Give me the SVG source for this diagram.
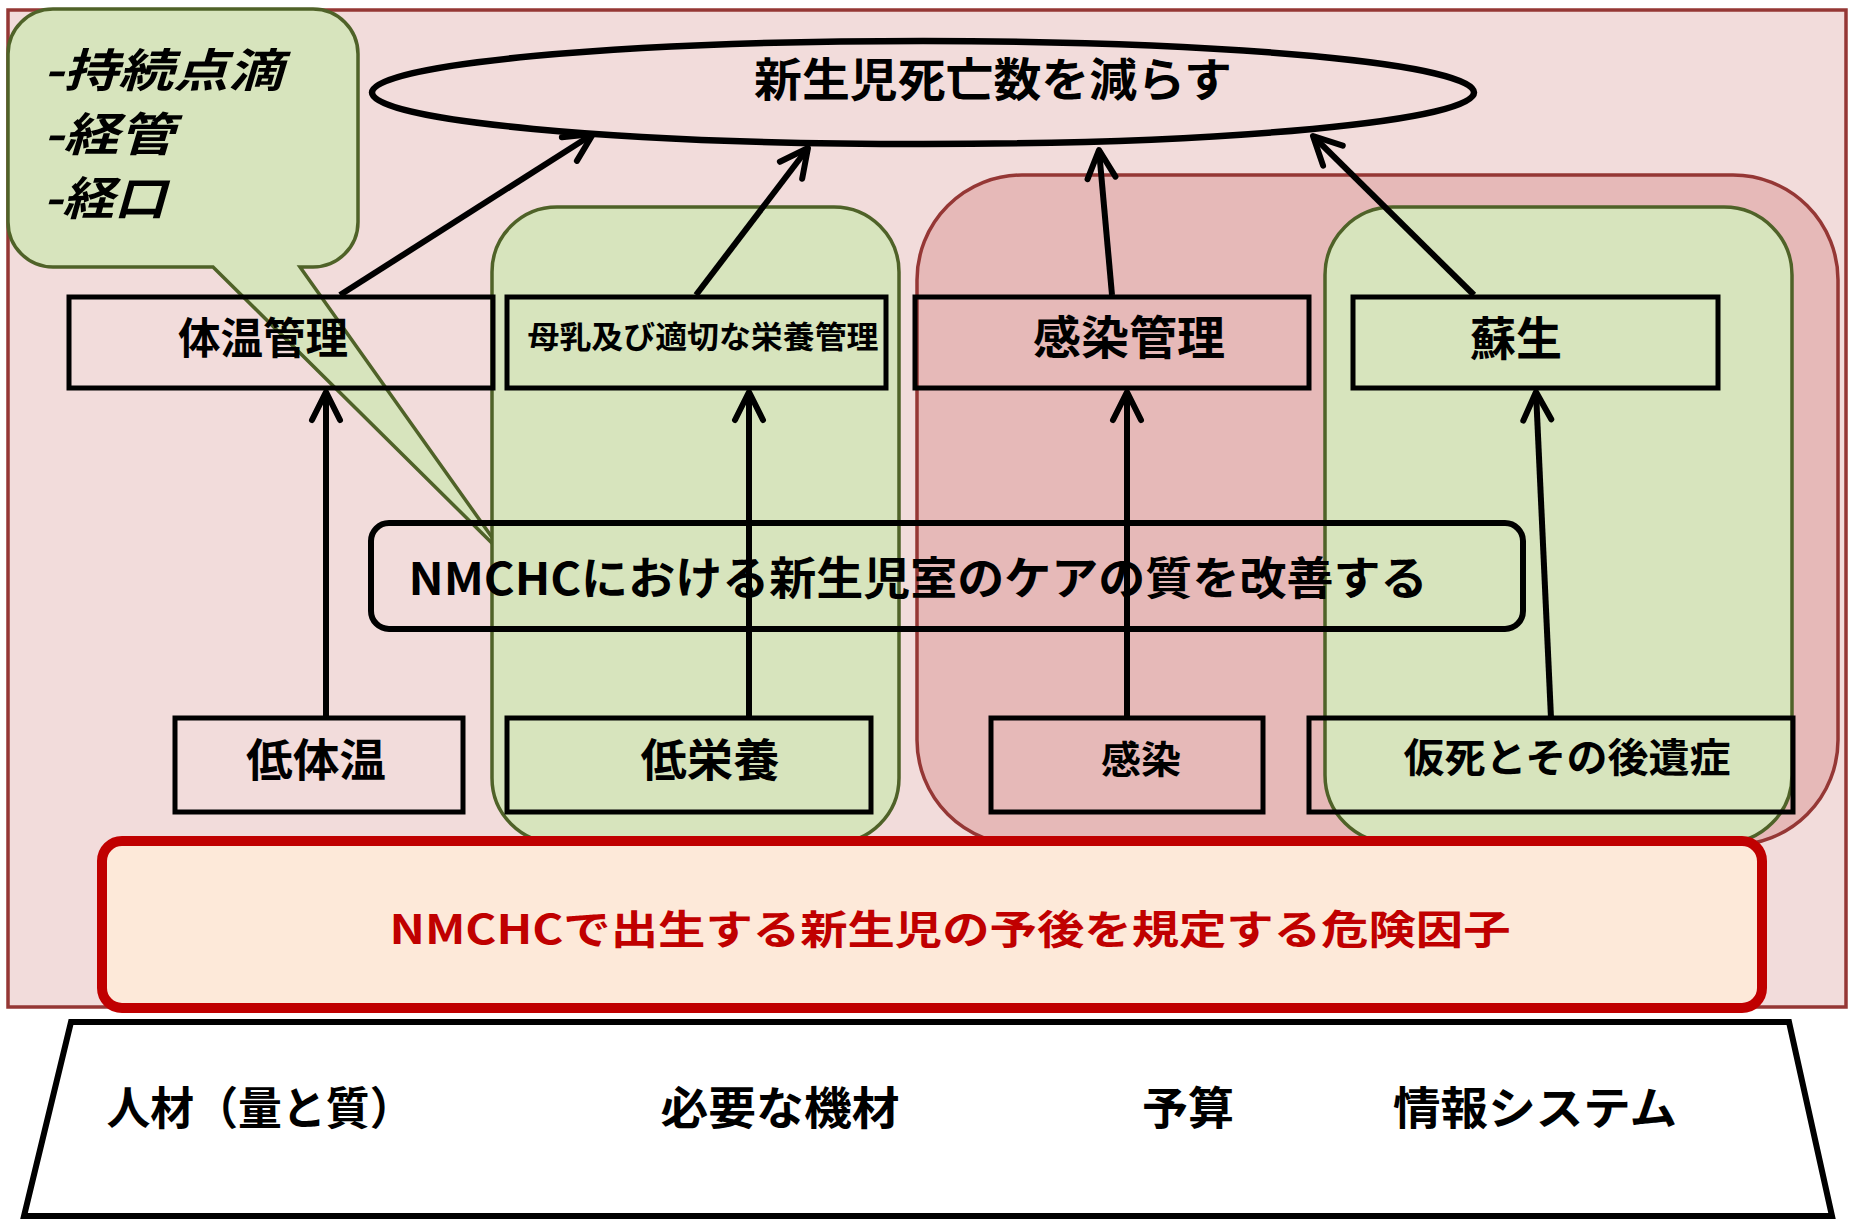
<svg xmlns="http://www.w3.org/2000/svg" width="1851" height="1221" viewBox="0 0 1851 1221">
<style>
text{font-family:"Noto Sans CJK JP","Noto Sans",sans-serif;font-weight:bold;fill:#000;text-anchor:middle}
.box{fill:none;stroke:#000;stroke-width:5}
.green{fill:#d7e4bd;stroke:#4f6228;stroke-width:3.5}
.redcol{fill:#e6b9b8;stroke:#953735;stroke-width:3.5}
.conn{stroke:#000;stroke-width:6;fill:none;marker-end:url(#arr)}
.call{font-size:46px;font-style:italic;text-anchor:start}
</style>
<defs>
<marker id="arr" markerUnits="userSpaceOnUse" markerWidth="44" markerHeight="44" viewBox="0 0 44 44" refX="38" refY="22" orient="auto">
<path d="M10,8 L38,22 L10,36" fill="none" stroke="#000" stroke-width="6" stroke-linecap="round" stroke-linejoin="round"/>
</marker>
</defs>
<rect id="background" x="8" y="10" width="1838" height="997" fill="#f2dcdb" stroke="#953735" stroke-width="3.5"/>
<g id="infection-group"><rect class="redcol" x="917" y="175" width="921" height="670" rx="105"/></g>
<g id="callout">
<path d="M53,9 H313 A45,45 0 0 1 358,54 V222 A45,45 0 0 1 313,267 H300 L506,557 L213,267 H53 A45,45 0 0 1 8,222 V54 A45,45 0 0 1 53,9 Z" fill="#d7e4bd" stroke="#4f6228" stroke-width="3.5"/>
<text class="call" x="43" y="87" textLength="240" lengthAdjust="spacingAndGlyphs">-持続点滴</text>
<text class="call" x="43" y="151" textLength="131" lengthAdjust="spacingAndGlyphs">-経管</text>
<text class="call" x="43" y="215" textLength="123" lengthAdjust="spacingAndGlyphs">-経口</text>
</g>
<g id="nutrition-group"><rect class="green" x="492" y="207" width="407" height="636" rx="65"/></g>
<g id="resuscitation-group"><rect class="green" x="1325" y="207" width="467" height="636" rx="68"/></g>
<g id="goal">
<ellipse cx="923" cy="92.5" rx="551" ry="51.5" fill="none" stroke="#000" stroke-width="6.5"/>
<text x="993" y="96" font-size="46" textLength="478" lengthAdjust="spacingAndGlyphs">新生児死亡数を減らす</text>
</g>
<g id="n-temp"><rect class="box" x="69" y="297" width="424" height="91"/><text x="263" y="354" font-size="43" textLength="170" lengthAdjust="spacingAndGlyphs">体温管理</text></g>
<g id="n-nutrition"><rect class="box" x="507" y="297" width="379" height="91"/><text x="703" y="348" font-size="31" textLength="351" lengthAdjust="spacingAndGlyphs">母乳及び適切な栄養管理</text></g>
<g id="n-infection"><rect class="box" x="915" y="297" width="394" height="91"/><text x="1129" y="354" font-size="46" textLength="192" lengthAdjust="spacingAndGlyphs">感染管理</text></g>
<g id="n-resus"><rect class="box" x="1353" y="297" width="365" height="91"/><text x="1516" y="355" font-size="46" textLength="92" lengthAdjust="spacingAndGlyphs">蘇生</text></g>
<g id="quality"><rect x="371" y="523" width="1152" height="106" rx="18" fill="none" stroke="#000" stroke-width="6"/><text x="918" y="595" font-size="45" textLength="1019" lengthAdjust="spacingAndGlyphs">NMCHCにおける新生児室のケアの質を改善する</text></g>
<g id="r-hypothermia"><rect class="box" x="175" y="718" width="288" height="94"/><text x="316" y="777" font-size="45" textLength="140" lengthAdjust="spacingAndGlyphs">低体温</text></g>
<g id="r-malnutrition"><rect class="box" x="507" y="718" width="364" height="94"/><text x="710" y="777" font-size="45" textLength="139" lengthAdjust="spacingAndGlyphs">低栄養</text></g>
<g id="r-infection"><rect class="box" x="991" y="718" width="272" height="94"/><text x="1141" y="773" font-size="38" textLength="80" lengthAdjust="spacingAndGlyphs">感染</text></g>
<g id="r-asphyxia"><rect class="box" x="1309" y="718" width="484" height="94"/><text x="1567" y="772" font-size="40" textLength="327" lengthAdjust="spacingAndGlyphs">仮死とその後遺症</text></g>
<g id="connectors">
<line class="conn" x1="340" y1="295" x2="593" y2="134"/>
<line class="conn" x1="696" y1="295" x2="808" y2="148"/>
<line class="conn" x1="1112" y1="295" x2="1099" y2="150"/>
<line class="conn" x1="1474" y1="295" x2="1313" y2="136"/>
<line class="conn" x1="326" y1="718" x2="326" y2="392"/>
<line class="conn" x1="749" y1="718" x2="749" y2="392"/>
<line class="conn" x1="1127" y1="718" x2="1127" y2="392"/>
<line class="conn" x1="1551" y1="718" x2="1536" y2="392"/>
</g>
<g id="risk-factors"><rect x="102" y="841" width="1660" height="167" rx="20" fill="#fde9d9" stroke="#c00000" stroke-width="10"/><text x="950" y="944" font-size="40" style="fill:#c00000" textLength="1121" lengthAdjust="spacingAndGlyphs">NMCHCで出生する新生児の予後を規定する危険因子</text></g>
<g id="resources">
<polygon points="71,1022 1789,1022 1832,1216 24,1216" fill="#fff" stroke="#000" stroke-width="6"/>
<text x="260" y="1125" font-size="45" textLength="307" lengthAdjust="spacingAndGlyphs">人材（量と質）</text>
<text x="780" y="1125" font-size="45" textLength="239" lengthAdjust="spacingAndGlyphs">必要な機材</text>
<text x="1188" y="1125" font-size="45" textLength="92" lengthAdjust="spacingAndGlyphs">予算</text>
<text x="1535" y="1125" font-size="45" textLength="284" lengthAdjust="spacingAndGlyphs">情報システム</text>
</g>
</svg>
